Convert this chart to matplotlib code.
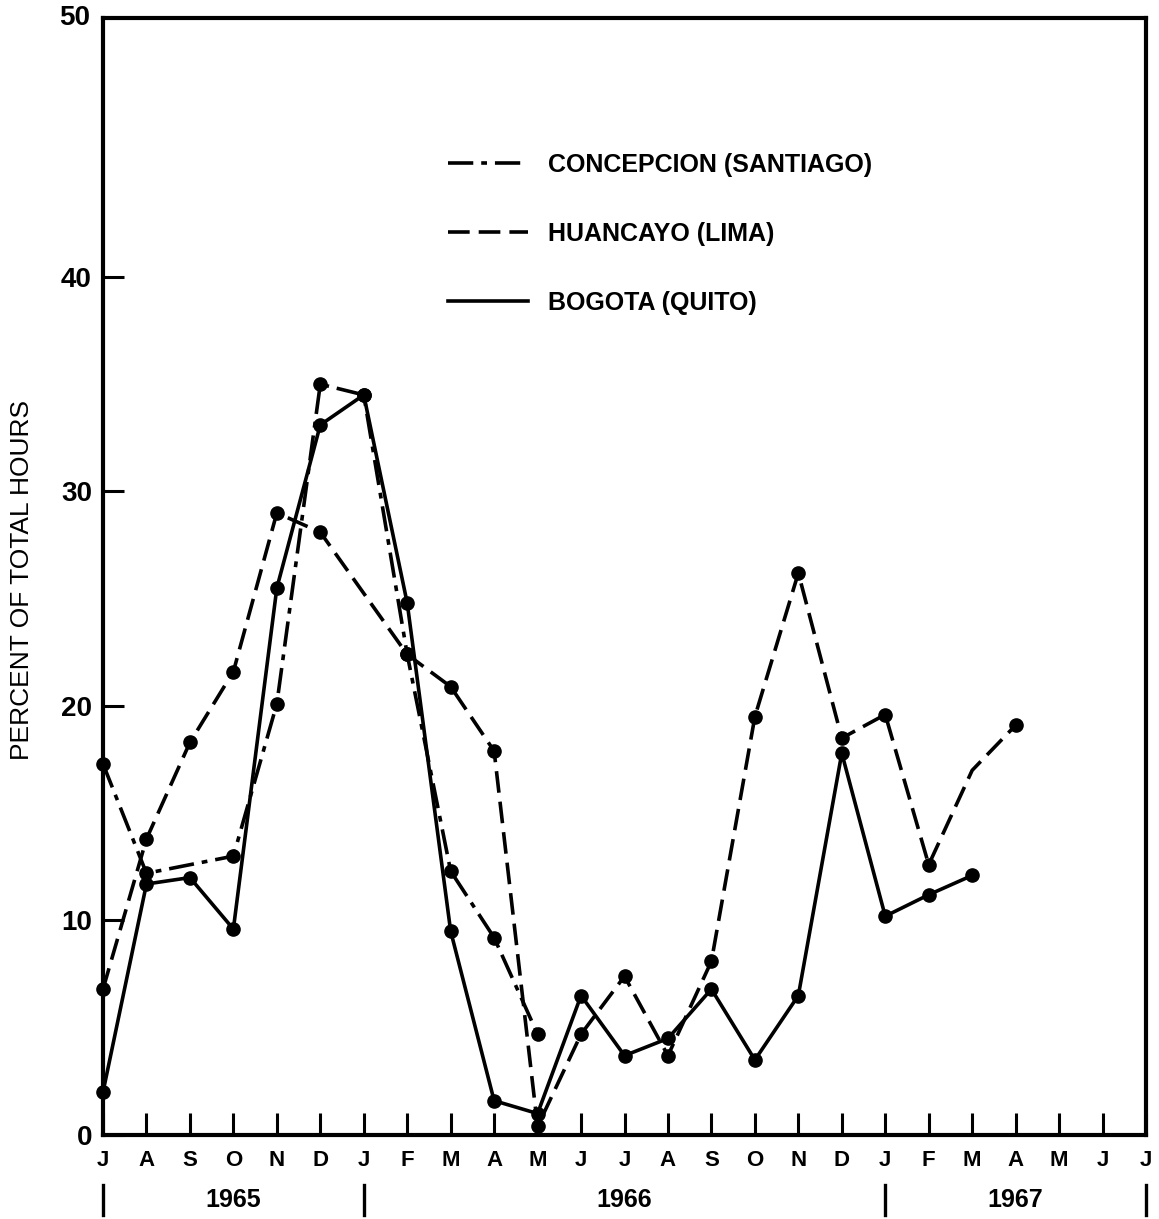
import numpy as np
import matplotlib.pyplot as plt
from matplotlib.transforms import blended_transform_factory

plt.rcParams['font.family'] = ['Liberation Sans', 'DejaVu Sans']

# month index: 0 = July 1965 ... 24 = July 1967
months = ['J', 'A', 'S', 'O', 'N', 'D', 'J', 'F', 'M', 'A', 'M', 'J',
          'J', 'A', 'S', 'O', 'N', 'D', 'J', 'F', 'M', 'A', 'M', 'J', 'J']
years = ['1965', '1966', '1967']
year_edges = [0, 6, 18, 24]

conc_x = [0, 1, 3, 4, 5, 6, 7, 8, 9, 10]
conc_y = [17.3, 12.2, 13.0, 20.1, 35.0, 34.5, 22.4, 12.3, 9.2, 4.7]

huan_x = [0, 1, 2, 3, 4, 5, 7, 8, 9, 10, 11, 12, 13, 14, 15, 16, 17, 18, 19, 20, 21]
huan_y = [6.8, 13.8, 18.3, 21.6, 29.0, 28.1, 22.4, 20.9, 17.9, 0.4, 4.7, 7.4,
          3.7, 8.1, 19.5, 26.2, 18.5, 19.6, 12.6, 17.0, 19.1]
huan_dot = [True] * 19 + [False, True]

bog_x = list(range(21))
bog_y = [2.0, 11.7, 12.0, 9.6, 25.5, 33.1, 34.5, 24.8, 9.5, 1.6, 1.0, 6.5,
         3.7, 4.5, 6.8, 3.5, 6.5, 17.8, 10.2, 11.2, 12.1]

YTOP = 52.07

fig = plt.figure(figsize=(11.59, 12.19), dpi=100)
ax = fig.add_axes([103 / 1159, 1 - 1135 / 1219, 1043 / 1159, 1117 / 1219])

lw = 2.6
ms = 9.5
ax.plot(conc_x, conc_y, color='black', lw=lw, dashes=(7, 2.2, 1.6, 2.2),
        marker='o', ms=ms, label='CONCEPCION (SANTIAGO)', clip_on=False, zorder=3)
ax.plot(huan_x, huan_y, color='black', lw=lw, dashes=(6, 2.5),
        marker='o', ms=ms, markevery=huan_dot, label='HUANCAYO (LIMA)',
        clip_on=False, zorder=3)
ax.plot(bog_x, bog_y, color='black', lw=lw, marker='o', ms=ms,
        label='BOGOTA (QUITO)', clip_on=False, zorder=3)

ax.set_xlim(0, 24)
ax.set_ylim(0, YTOP)
ax.set_xticks(range(25))
ax.set_xticklabels(months, fontsize=16, fontweight='bold')
ax.set_yticks([0, 10, 20, 30, 40])
ax.set_yticklabels(['0', '10', '20', '30', '40'], fontsize=20, fontweight='bold')
ax.tick_params(axis='x', direction='in', length=16, width=2.2, pad=11)
ax.tick_params(axis='y', direction='in', length=15, width=2.2, pad=8)
ax.text(-0.012, 1.0, '50', transform=ax.transAxes, ha='right', va='center',
        fontsize=20, fontweight='bold')
for s in ax.spines.values():
    s.set_linewidth(3)

# year bands under the month labels
tr = blended_transform_factory(ax.transData, ax.transAxes)
for xe in year_edges:
    ax.plot([xe, xe], [-0.045, -0.072], color='black', lw=2.4,
            transform=tr, clip_on=False)
for i, yr in enumerate(years):
    xc = (year_edges[i] + year_edges[i + 1]) / 2
    ax.text(xc, -0.0585, yr, transform=tr, ha='center', va='center',
            fontsize=18, fontweight='bold')

fig.text(22 / 1159, 1 - 580 / 1219, 'PERCENT OF TOTAL HOURS', rotation=90,
         ha='center', va='center', fontsize=19)

leg = ax.legend(loc='upper left', bbox_to_anchor=(0.331, 0.879), frameon=False,
                borderpad=0, borderaxespad=0,
                handlelength=3.2, handletextpad=0.8, labelspacing=1.8,
                prop={'size': 18, 'weight': 'bold'})
for h in leg.legend_handles:
    h.set_marker('')

fig.savefig('out.png', dpi=100)
